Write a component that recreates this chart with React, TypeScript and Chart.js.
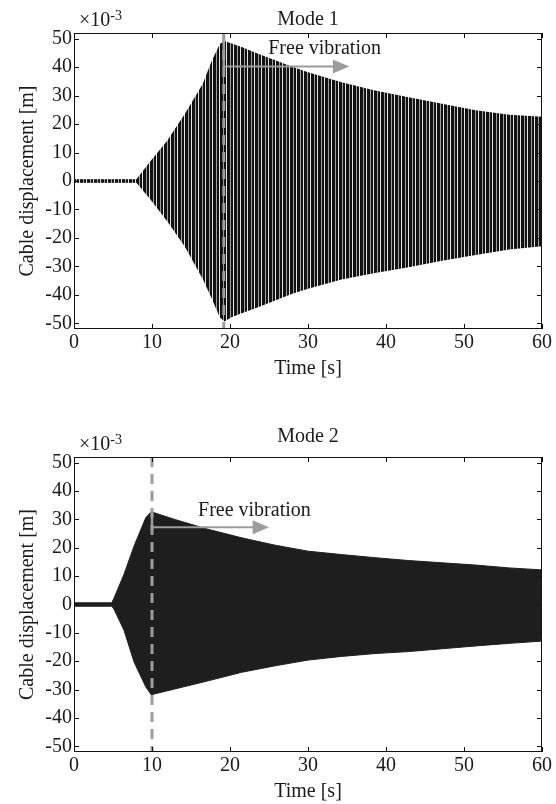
import React, { useEffect, useRef } from "react";
import { Chart, registerables } from "chart.js";

Chart.register(...registerables);

// ---------- data ----------
const X_TICKS = [0, 10, 20, 30, 40, 50, 60];
const Y_TICKS = [-50, -40, -30, -20, -10, 0, 10, 20, 30, 40, 50];

// Mode 1 envelope (×10^-3 m)
const MODE1_TIME = [0, 8.0, 9.8, 11.9, 14.2, 16.5, 17.6, 18.7, 19.3, 20.2, 21.5, 23.6, 25.8, 27.9, 30, 34.3, 38.6, 42.9, 47.2, 51.5, 55.8, 60];
const MODE1_UPPER = [0.6, 0.6, 6.9, 14.0, 23.5, 34.1, 41.8, 48.2, 49.2, 48.3, 47.1, 44.7, 42.4, 40.2, 38.2, 34.7, 31.8, 29.4, 27.1, 24.9, 23.3, 22.6];
const MODE1_LOWER = [-0.6, -0.6, -6.5, -14.0, -23.0, -34.4, -40.9, -48.0, -49.4, -47.9, -46.5, -44.4, -42.0, -39.7, -37.9, -34.6, -32.3, -30.3, -28.0, -26.0, -24.1, -22.9];
const MODE1_QUIET_TIME = [0, 8.1];
const MODE1_QUIET = [0, 0];

// Mode 2 envelope (×10^-3 m)
const MODE2_TIME = [0, 4.85, 5.15, 6.4, 7.7, 9.2, 9.9, 12.9, 17.2, 21.5, 25.8, 30, 34.3, 38.6, 42.9, 47.2, 51.5, 55.8, 60];
const MODE2_UPPER = [0.6, 0.6, 2.4, 10.6, 20.6, 30.6, 32.7, 30.0, 26.5, 23.5, 20.9, 18.8, 17.6, 16.5, 15.5, 14.7, 13.9, 12.9, 12.2];
const MODE2_LOWER = [-0.6, -0.6, -1.8, -9.0, -20.3, -29.0, -31.8, -29.8, -26.9, -23.9, -21.6, -19.6, -18.3, -17.3, -16.6, -15.6, -14.6, -13.7, -12.9];
const MODE2_QUIET_TIME = [0, 4.9];
const MODE2_QUIET = [0, 0];

// free-vibration start times
const MODE1_RELEASE = 19.2;
const MODE2_RELEASE = 10.0;

// ---------- styling / layout ----------
const FONT = '"Liberation Serif", "Times New Roman", Times, serif';
const TEXT = "#1a1a1a";
const GRAY = "#9c9c9c";
const W = 556;
const H = 402;

type Cfg = {
  title: string;
  time: number[];
  upper: number[];
  lower: number[];
  quietTime: number[];
  quiet: number[];
  release: number;
  striped: boolean;
  plotTop: number;
  xAxisHeight: number;
  titleBaseline: number;
  arrowY: number;
  headBase: number;
  headTip: number;
  tailTop: number;
  tailBottom: number;
  textX: number;
  textY: number;
};

const PANELS: Cfg[] = [
  {
    title: "Mode 1",
    time: MODE1_TIME,
    upper: MODE1_UPPER,
    lower: MODE1_LOWER,
    quietTime: MODE1_QUIET_TIME,
    quiet: MODE1_QUIET,
    release: MODE1_RELEASE,
    striped: true,
    plotTop: 33,
    xAxisHeight: H - 329,
    titleBaseline: 25,
    arrowY: 40.2,
    headBase: 33.2,
    headTip: 35.3,
    tailTop: 52,
    tailBottom: 39.5,
    textX: 24.9,
    textY: 44.5,
  },
  {
    title: "Mode 2",
    time: MODE2_TIME,
    upper: MODE2_UPPER,
    lower: MODE2_LOWER,
    quietTime: MODE2_QUIET_TIME,
    quiet: MODE2_QUIET,
    release: MODE2_RELEASE,
    striped: false,
    plotTop: 457 - H,
    xAxisHeight: H - (752 - H),
    titleBaseline: 442 - H,
    arrowY: 27.2,
    headBase: 22.9,
    headTip: 25.0,
    tailTop: 33,
    tailBottom: 26,
    textX: 15.9,
    textY: 31.1,
  },
];

function zip(xs: number[], ys: number[]) {
  return xs.map((x, i) => ({ x, y: ys[i] }));
}

function makeStripes(): CanvasPattern | string {
  const c = document.createElement("canvas");
  const cols = ["#121212", "#121212", "#e4e4e4", "#121212", "#121212", "#121212", "#a0a0a0"];
  c.width = cols.length;
  c.height = 1;
  const g = c.getContext("2d");
  if (!g) return "#222";
  cols.forEach((col, i) => {
    g.fillStyle = col;
    g.fillRect(i, 0, 1, 1);
  });
  const p = g.createPattern(c, "repeat");
  return p || "#222";
}

function decor(cfg: Cfg) {
  return {
    id: "decor",
    afterDatasetsDraw(chart: any) {
      const { ctx, chartArea: a, scales } = chart;
      const x = scales.x;
      const y = scales.y;
      ctx.save();
      // dashed release line
      const rx = x.getPixelForValue(cfg.release);
      ctx.strokeStyle = GRAY;
      ctx.lineWidth = 3;
      ctx.setLineDash([10, 7]);
      ctx.beginPath();
      ctx.moveTo(rx, a.top);
      ctx.lineTo(rx, a.bottom);
      ctx.stroke();
      ctx.setLineDash([]);
      // arrow tail bar
      ctx.lineWidth = 2.5;
      ctx.beginPath();
      ctx.moveTo(rx, y.getPixelForValue(cfg.tailTop));
      ctx.lineTo(rx, y.getPixelForValue(cfg.tailBottom));
      ctx.stroke();
      // arrow shaft + head
      const ay = y.getPixelForValue(cfg.arrowY);
      const hb = x.getPixelForValue(cfg.headBase);
      const ht = x.getPixelForValue(cfg.headTip);
      ctx.lineWidth = 2;
      ctx.beginPath();
      ctx.moveTo(rx, ay);
      ctx.lineTo(hb + 1, ay);
      ctx.stroke();
      ctx.fillStyle = GRAY;
      ctx.beginPath();
      ctx.moveTo(hb, ay - 7);
      ctx.lineTo(ht, ay);
      ctx.lineTo(hb, ay + 7);
      ctx.closePath();
      ctx.fill();
      // annotation text
      ctx.fillStyle = TEXT;
      ctx.font = `20px ${FONT}`;
      ctx.textAlign = "left";
      ctx.textBaseline = "alphabetic";
      ctx.fillText("Free vibration", x.getPixelForValue(cfg.textX), y.getPixelForValue(cfg.textY));
      ctx.restore();
    },
    afterDraw(chart: any) {
      const { ctx, chartArea: a, scales } = chart;
      const x = scales.x;
      const y = scales.y;
      ctx.save();
      // box
      ctx.strokeStyle = "#111";
      ctx.lineWidth = 1;
      ctx.strokeRect(a.left + 0.5, a.top + 0.5, a.right - a.left - 1, a.bottom - a.top - 1);
      // inward ticks
      const TL = 5;
      ctx.beginPath();
      X_TICKS.forEach((v) => {
        const px = Math.round(x.getPixelForValue(v)) + 0.5;
        ctx.moveTo(px, a.bottom);
        ctx.lineTo(px, a.bottom - TL);
        ctx.moveTo(px, a.top);
        ctx.lineTo(px, a.top + TL);
      });
      Y_TICKS.forEach((v) => {
        const py = Math.round(y.getPixelForValue(v)) + 0.5;
        ctx.moveTo(a.left, py);
        ctx.lineTo(a.left + TL, py);
        ctx.moveTo(a.right, py);
        ctx.lineTo(a.right - TL, py);
      });
      ctx.stroke();
      // texts
      ctx.fillStyle = TEXT;
      const cx = (a.left + a.right) / 2;
      ctx.font = `20px ${FONT}`;
      ctx.textAlign = "center";
      ctx.textBaseline = "alphabetic";
      ctx.fillText(cfg.title, cx, cfg.titleBaseline);
      ctx.fillText("Time [s]", cx, a.bottom + 45);
      // exponent
      ctx.textAlign = "left";
      const ex = a.left + 5;
      const ey = a.top - 7;
      ctx.fillText("\u00d710", ex, ey);
      const w10 = ctx.measureText("\u00d710").width;
      ctx.font = `14px ${FONT}`;
      ctx.fillText("-3", ex + w10, ey - 6);
      // y title
      ctx.font = `20px ${FONT}`;
      ctx.translate(33, (a.top + a.bottom) / 2);
      ctx.rotate(-Math.PI / 2);
      ctx.textAlign = "center";
      ctx.fillText("Cable displacement [m]", 0, 0);
      ctx.restore();
    },
  };
}

function Panel({ cfg, top }: { cfg: Cfg; top: number }) {
  const ref = useRef<HTMLCanvasElement>(null);
  useEffect(() => {
    const canvas = ref.current;
    if (!canvas) return;
    const fillStyle = cfg.striped ? makeStripes() : "#1e1e1e";
    const edge = cfg.striped ? "rgba(0,0,0,0)" : "#1e1e1e";
    const tickFont = { family: FONT, size: 20 };
    const chart = new Chart(canvas, {
      type: "line",
      data: {
        datasets: [
          {
            data: zip(cfg.time, cfg.upper),
            fill: "+1",
            backgroundColor: fillStyle as any,
            borderColor: edge,
            borderWidth: 1,
            pointRadius: 0,
            tension: 0,
          },
          {
            data: zip(cfg.time, cfg.lower),
            fill: false,
            borderColor: edge,
            borderWidth: 1,
            pointRadius: 0,
            tension: 0,
          },
          {
            data: zip(cfg.quietTime, cfg.quiet),
            fill: false,
            borderColor: "#151515",
            borderWidth: 2.5,
            pointRadius: 0,
            tension: 0,
          },
        ],
      },
      options: {
        responsive: false,
        animation: false,
        devicePixelRatio: 1,
        events: [],
        layout: { padding: { top: cfg.plotTop, right: 14, left: 0, bottom: 0 } },
        plugins: {
          legend: { display: false },
          tooltip: { enabled: false },
          title: { display: false },
        },
        scales: {
          x: {
            type: "linear",
            min: 0,
            max: 60,
            grid: { display: false, drawTicks: false },
            border: { display: false },
            ticks: { font: tickFont, color: TEXT, padding: 2, maxRotation: 0, autoSkip: false },
            afterBuildTicks: (s: any) => {
              s.ticks = X_TICKS.map((v) => ({ value: v }));
            },
            afterFit: (s: any) => {
              s.height = cfg.xAxisHeight;
            },
          },
          y: {
            type: "linear",
            min: -52,
            max: 52,
            grid: { display: false, drawTicks: false },
            border: { display: false },
            ticks: { font: tickFont, color: TEXT, padding: 2, autoSkip: false },
            afterBuildTicks: (s: any) => {
              s.ticks = Y_TICKS.map((v) => ({ value: v }));
            },
            afterFit: (s: any) => {
              s.width = 74;
            },
          },
        },
      } as any,
      plugins: [decor(cfg) as any],
    });
    return () => chart.destroy();
  }, [cfg]);
  return (
    <canvas
      ref={ref}
      width={W}
      height={H}
      style={{ position: "absolute", left: 0, top, width: W, height: H, display: "block" }}
    />
  );
}

export default function App() {
  return (
    <div style={{ position: "absolute", left: 0, top: 0, width: W, height: 804, background: "#fff" }}>
      <Panel cfg={PANELS[0]} top={0} />
      <Panel cfg={PANELS[1]} top={H} />
    </div>
  );
}
